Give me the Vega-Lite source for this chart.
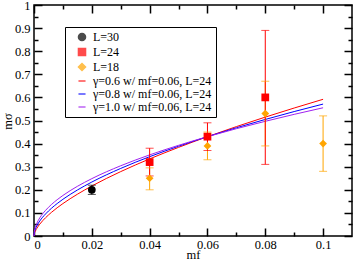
{
  "$schema": "https://vega.github.io/schema/vega-lite/v6.json",
  "width": 318,
  "height": 231,
  "autosize": "none",
  "padding": {"left": 34, "top": 5, "right": 2, "bottom": 29},
  "config": {
    "view": {"stroke": "black", "strokeWidth": 1.5},
    "font": "Liberation Serif",
    "axis": {
      "domain": false,
      "grid": false,
      "tickColor": "black",
      "tickWidth": 1.5,
      "labelColor": "black",
      "labelFont": "Liberation Serif",
      "labelFontSize": 12,
      "titleFont": "Liberation Serif",
      "titleFontSize": 12,
      "titleFontWeight": "normal",
      "titleColor": "black"
    },
    "legend": {"labelFont": "Liberation Serif"}
  },
  "datasets": {
    "pts": [
      {"s": "L=30", "mf": 0.02, "m": 0.20, "lo": 0.18, "hi": 0.22},
      {"s": "L=18", "mf": 0.04, "m": 0.25, "lo": 0.20, "hi": 0.295},
      {"s": "L=18", "mf": 0.06, "m": 0.39, "lo": 0.33, "hi": 0.45},
      {"s": "L=18", "mf": 0.08, "m": 0.53, "lo": 0.39, "hi": 0.67},
      {"s": "L=18", "mf": 0.1, "m": 0.40, "lo": 0.28, "hi": 0.52},
      {"s": "L=24", "mf": 0.04, "m": 0.32, "lo": 0.26, "hi": 0.38},
      {"s": "L=24", "mf": 0.06, "m": 0.43, "lo": 0.37, "hi": 0.49},
      {"s": "L=24", "mf": 0.08, "m": 0.60, "lo": 0.31, "hi": 0.89}
    ],
    "curves": [
      {"s": "γ=0.6 w/ mf=0.06, L=24", "mf": 0, "m": 0},
      {"s": "γ=0.6 w/ mf=0.06, L=24", "mf": 0.0001, "m": 0.0079},
      {"s": "γ=0.6 w/ mf=0.06, L=24", "mf": 0.0005, "m": 0.0216},
      {"s": "γ=0.6 w/ mf=0.06, L=24", "mf": 0.001, "m": 0.0333},
      {"s": "γ=0.6 w/ mf=0.06, L=24", "mf": 0.002, "m": 0.0513},
      {"s": "γ=0.6 w/ mf=0.06, L=24", "mf": 0.004, "m": 0.0791},
      {"s": "γ=0.6 w/ mf=0.06, L=24", "mf": 0.006, "m": 0.1020},
      {"s": "γ=0.6 w/ mf=0.06, L=24", "mf": 0.008, "m": 0.1221},
      {"s": "γ=0.6 w/ mf=0.06, L=24", "mf": 0.01, "m": 0.1403},
      {"s": "γ=0.6 w/ mf=0.06, L=24", "mf": 0.015, "m": 0.1808},
      {"s": "γ=0.6 w/ mf=0.06, L=24", "mf": 0.02, "m": 0.2164},
      {"s": "γ=0.6 w/ mf=0.06, L=24", "mf": 0.03, "m": 0.2788},
      {"s": "γ=0.6 w/ mf=0.06, L=24", "mf": 0.04, "m": 0.3338},
      {"s": "γ=0.6 w/ mf=0.06, L=24", "mf": 0.05, "m": 0.3837},
      {"s": "γ=0.6 w/ mf=0.06, L=24", "mf": 0.06, "m": 0.43},
      {"s": "γ=0.6 w/ mf=0.06, L=24", "mf": 0.07, "m": 0.4735},
      {"s": "γ=0.6 w/ mf=0.06, L=24", "mf": 0.08, "m": 0.5147},
      {"s": "γ=0.6 w/ mf=0.06, L=24", "mf": 0.09, "m": 0.5540},
      {"s": "γ=0.6 w/ mf=0.06, L=24", "mf": 0.1, "m": 0.5918},
      {"s": "γ=0.8 w/ mf=0.06, L=24", "mf": 0, "m": 0},
      {"s": "γ=0.8 w/ mf=0.06, L=24", "mf": 0.0001, "m": 0.0123},
      {"s": "γ=0.8 w/ mf=0.06, L=24", "mf": 0.0005, "m": 0.0301},
      {"s": "γ=0.8 w/ mf=0.06, L=24", "mf": 0.001, "m": 0.0442},
      {"s": "γ=0.8 w/ mf=0.06, L=24", "mf": 0.002, "m": 0.0650},
      {"s": "γ=0.8 w/ mf=0.06, L=24", "mf": 0.004, "m": 0.0955},
      {"s": "γ=0.8 w/ mf=0.06, L=24", "mf": 0.006, "m": 0.1196},
      {"s": "γ=0.8 w/ mf=0.06, L=24", "mf": 0.008, "m": 0.1404},
      {"s": "γ=0.8 w/ mf=0.06, L=24", "mf": 0.01, "m": 0.1589},
      {"s": "γ=0.8 w/ mf=0.06, L=24", "mf": 0.015, "m": 0.1990},
      {"s": "γ=0.8 w/ mf=0.06, L=24", "mf": 0.02, "m": 0.2336},
      {"s": "γ=0.8 w/ mf=0.06, L=24", "mf": 0.03, "m": 0.2926},
      {"s": "γ=0.8 w/ mf=0.06, L=24", "mf": 0.04, "m": 0.3433},
      {"s": "γ=0.8 w/ mf=0.06, L=24", "mf": 0.05, "m": 0.3886},
      {"s": "γ=0.8 w/ mf=0.06, L=24", "mf": 0.06, "m": 0.43},
      {"s": "γ=0.8 w/ mf=0.06, L=24", "mf": 0.07, "m": 0.4685},
      {"s": "γ=0.8 w/ mf=0.06, L=24", "mf": 0.08, "m": 0.5045},
      {"s": "γ=0.8 w/ mf=0.06, L=24", "mf": 0.09, "m": 0.5387},
      {"s": "γ=0.8 w/ mf=0.06, L=24", "mf": 0.1, "m": 0.5711},
      {"s": "γ=1.0 w/ mf=0.06, L=24", "mf": 0, "m": 0},
      {"s": "γ=1.0 w/ mf=0.06, L=24", "mf": 0.0001, "m": 0.0176},
      {"s": "γ=1.0 w/ mf=0.06, L=24", "mf": 0.0005, "m": 0.0393},
      {"s": "γ=1.0 w/ mf=0.06, L=24", "mf": 0.001, "m": 0.0555},
      {"s": "γ=1.0 w/ mf=0.06, L=24", "mf": 0.002, "m": 0.0785},
      {"s": "γ=1.0 w/ mf=0.06, L=24", "mf": 0.004, "m": 0.1110},
      {"s": "γ=1.0 w/ mf=0.06, L=24", "mf": 0.006, "m": 0.1360},
      {"s": "γ=1.0 w/ mf=0.06, L=24", "mf": 0.008, "m": 0.1570},
      {"s": "γ=1.0 w/ mf=0.06, L=24", "mf": 0.01, "m": 0.1755},
      {"s": "γ=1.0 w/ mf=0.06, L=24", "mf": 0.015, "m": 0.2150},
      {"s": "γ=1.0 w/ mf=0.06, L=24", "mf": 0.02, "m": 0.2483},
      {"s": "γ=1.0 w/ mf=0.06, L=24", "mf": 0.03, "m": 0.3041},
      {"s": "γ=1.0 w/ mf=0.06, L=24", "mf": 0.04, "m": 0.3511},
      {"s": "γ=1.0 w/ mf=0.06, L=24", "mf": 0.05, "m": 0.3925},
      {"s": "γ=1.0 w/ mf=0.06, L=24", "mf": 0.06, "m": 0.43},
      {"s": "γ=1.0 w/ mf=0.06, L=24", "mf": 0.07, "m": 0.4645},
      {"s": "γ=1.0 w/ mf=0.06, L=24", "mf": 0.08, "m": 0.4965},
      {"s": "γ=1.0 w/ mf=0.06, L=24", "mf": 0.09, "m": 0.5266},
      {"s": "γ=1.0 w/ mf=0.06, L=24", "mf": 0.1, "m": 0.5551}
    ]
  },
  "layer": [
    {
      "data": {"name": "curves"},
      "mark": {"type": "line", "strokeWidth": 1, "interpolate": "monotone"},
      "encoding": {
        "x": {"field": "mf", "type": "quantitative", "scale": {"domain": [0, 0.11], "nice": false},
          "axis": {"orient": "bottom", "values": [0, 0.02, 0.04, 0.06, 0.08, 0.1], "format": "~g", "tickSize": -8, "labelPadding": 10,
                   "labelFont": "Liberation Serif", "labelFontSize": 12.5,
                   "title": "mf", "titleFont": "Liberation Serif", "titleFontSize": 12.5, "titleBaseline": "alphabetic", "titleX": 159, "titleY": 22}},
        "y": {"field": "m", "type": "quantitative", "scale": {"domain": [0, 1], "nice": false},
          "axis": {"orient": "left", "values": [0, 0.1, 0.2, 0.3, 0.4, 0.5, 0.6, 0.7, 0.8, 0.9, 1], "format": "~g", "tickSize": -8, "labelPadding": 12,
                   "labelFont": "Liberation Serif", "labelFontSize": 12.5,
                   "title": "mσ", "titleFont": "Liberation Serif", "titleFontSize": 12.5, "titleBaseline": "alphabetic", "titleX": -23, "titleY": 116, "titleAngle": -90}},
        "color": {"field": "s", "type": "nominal",
          "scale": {"domain": ["L=30", "L=24", "L=18", "γ=0.6 w/ mf=0.06, L=24", "γ=0.8 w/ mf=0.06, L=24", "γ=1.0 w/ mf=0.06, L=24"],
                    "range": ["#000000", "#ff0000", "#ffa500", "#ff0000", "#0000ff", "#a020f0"]}}
      }
    },
    {
      "data": {"name": "pts"},
      "mark": {"type": "rule", "strokeWidth": 1},
      "encoding": {
        "x": {"field": "mf", "type": "quantitative",
          "axis": {"orient": "bottom", "values": [0.01, 0.03, 0.05, 0.07, 0.09], "tickSize": -4, "labels": false, "title": null}},
        "y": {"field": "lo", "type": "quantitative",
          "axis": {"orient": "left", "values": [0.05, 0.15, 0.25, 0.35, 0.45, 0.55, 0.65, 0.75, 0.85, 0.95], "tickSize": -4, "labels": false, "title": null}},
        "y2": {"field": "hi"},
        "color": {"field": "s", "type": "nominal"}
      }
    },
    {
      "data": {"name": "pts"},
      "mark": {"type": "tick", "orient": "horizontal", "size": 8, "thickness": 1},
      "encoding": {
        "x": {"field": "mf", "type": "quantitative", "axis": null},
        "y": {"field": "lo", "type": "quantitative", "axis": null},
        "color": {"field": "s", "type": "nominal"}
      }
    },
    {
      "data": {"name": "pts"},
      "mark": {"type": "tick", "orient": "horizontal", "size": 8, "thickness": 1},
      "encoding": {
        "x": {"field": "mf", "type": "quantitative", "axis": null},
        "y": {"field": "hi", "type": "quantitative", "axis": null},
        "color": {"field": "s", "type": "nominal"}
      }
    },
    {
      "data": {"name": "pts"},
      "mark": {"type": "point", "filled": true, "opacity": 1, "size": 60},
      "encoding": {
        "x": {"field": "mf", "type": "quantitative",
          "axis": {"orient": "top", "values": [0, 0.02, 0.04, 0.06, 0.08, 0.1], "tickSize": -8, "labels": false, "title": null}},
        "y": {"field": "m", "type": "quantitative",
          "axis": {"orient": "right", "values": [0, 0.1, 0.2, 0.3, 0.4, 0.5, 0.6, 0.7, 0.8, 0.9, 1], "tickSize": -8, "labels": false, "title": null}},
        "color": {"field": "s", "type": "nominal",
          "legend": {
            "title": null,
            "orient": "none",
            "legendX": 31,
            "legendY": 22,
            "strokeColor": "black",
            "fillColor": "white",
            "padding": 4,
            "labelFont": "Liberation Serif",
            "labelFontSize": 12,
            "labelColor": "black",
            "labelOffset": 5,
            "rowPadding": 1,
            "symbolSize": 50,
            "symbolOffset": 7,
            "encode": {
              "symbols": {"update": {
                "size": {"signal": "indexof(datum.label, 'γ') >= 0 ? 289 : 50"},
                "stroke": {"scale": "color", "field": "value"},
                "strokeWidth": {"value": 1.2},
                "fill": {"signal": "indexof(datum.label, 'γ') >= 0 ? 'transparent' : scale('color', datum.value)"},
                "opacity": {"value": 1}
              }},
              "legend": {"update": {"strokeWidth": {"value": 1.5}}}
            }
          }},
        "shape": {"field": "s", "type": "nominal",
          "scale": {"domain": ["L=30", "L=24", "L=18", "γ=0.6 w/ mf=0.06, L=24", "γ=0.8 w/ mf=0.06, L=24", "γ=1.0 w/ mf=0.06, L=24"],
                    "range": ["circle", "square", "diamond", "stroke", "stroke", "stroke"]}}
      }
    },
    {
      "data": {"name": "pts"},
      "mark": {"type": "point", "opacity": 0},
      "encoding": {
        "x": {"field": "mf", "type": "quantitative",
          "axis": {"orient": "top", "values": [0.01, 0.03, 0.05, 0.07, 0.09], "tickSize": -4, "labels": false, "title": null}},
        "y": {"field": "m", "type": "quantitative",
          "axis": {"orient": "right", "values": [0.05, 0.15, 0.25, 0.35, 0.45, 0.55, 0.65, 0.75, 0.85, 0.95], "tickSize": -4, "labels": false, "title": null}}
      }
    }
  ],
  "resolve": {"axis": {"x": "independent", "y": "independent"}}
}
